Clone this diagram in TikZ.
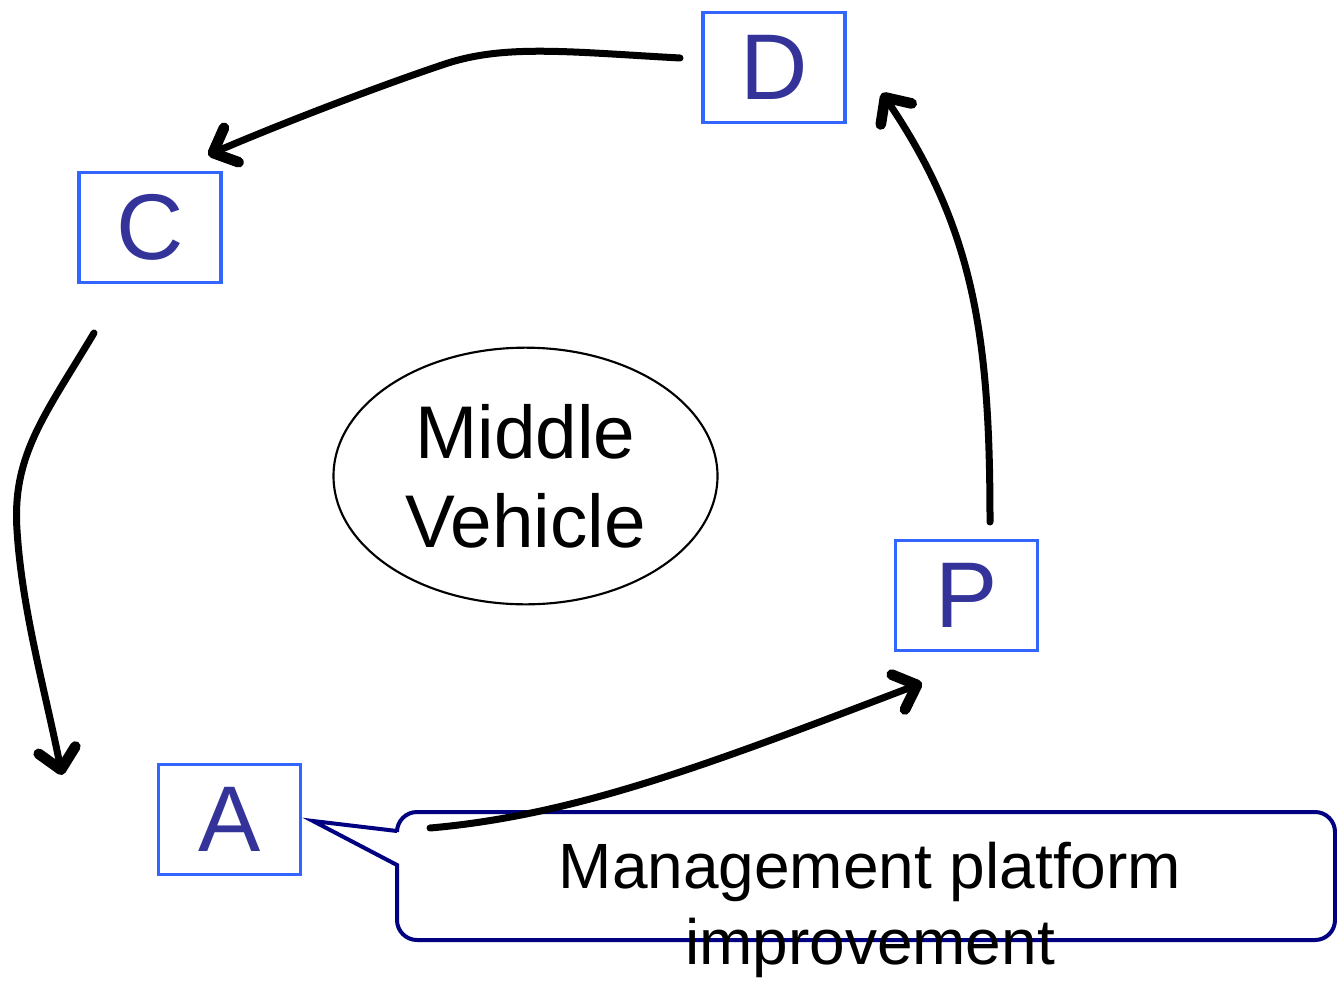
\documentclass[tikz,border=0pt]{standalone}
\usepackage{fontspec}
\setmainfont{Liberation Sans}
\usetikzlibrary{arrows.meta,shapes.geometric}
\definecolor{boxblue}{HTML}{3366FF}
\definecolor{letterblue}{HTML}{333399}
\definecolor{navy}{HTML}{000080}
\tikzset{
  letterbox/.style={draw=boxblue, line width=2.8pt, minimum width=106.5pt, minimum height=82.5pt,
    inner sep=0pt, text=letterblue, font=\fontsize{70}{70}\selectfont},
  cyclearrow/.style={line width=5.25pt, line cap=round,
    -{Straight Barb[length=15pt, width=28pt, round, line width=8pt]}},
}
\begin{document}
\begin{tikzpicture}[x=0.75pt, y=-0.75pt]
\useasboundingbox (0,0) rectangle (1337,981);
\node[letterbox] (D) at (774,67.5) {D};
\node[letterbox] (C) at (150,227.5) {C};
\node[letterbox] (A) at (229.5,819.5) {A};
\node[letterbox] (P) at (966.5,595.5) {P};
\node[ellipse, draw, line width=1.6pt, minimum width=288pt, minimum height=192.5pt, inner sep=0pt,
  align=center, font=\fontsize{56}{67}\selectfont] (M) at (525.5,476) {Middle\\Vehicle};
% callout
\draw[navy, line width=3pt, fill=white, line join=miter]
  (313,821) -- (397,831) [rounded corners=15pt] -- (397,812) -- (1335,812) -- (1335,940) -- (397,940)
  [sharp corners] -- (397,865) -- cycle;
\coordinate (dstart) at (680,58);
\coordinate (dmid) at (445,64);
\coordinate (dend) at (208,155);
\coordinate (cstart) at (94,333);
\coordinate (cmid) at (17,530);
\coordinate (cend) at (62,775);
\coordinate (astart) at (430,828);
\coordinate (aend) at (922,683);
\coordinate (pstart) at (990,522);
\coordinate (pend) at (882,93);
\draw[cyclearrow] (dstart) .. controls (570,52) and (505,44) .. (dmid) .. controls (385,84) and (290,120) .. (dend);
\draw[cyclearrow] (cstart) .. controls (45,415) and (12,455) .. (cmid) .. controls (22,610) and (45,690) .. (cend);
\draw[cyclearrow] (astart) .. controls (580,815) and (720,760) .. (aend);
\draw[cyclearrow] (pstart) .. controls (990,340) and (975,230) .. (pend);
\node[align=center, font=\fontsize{48}{57}\selectfont, inner sep=0pt] (T) at (870,910) {Management platform\\improvement};
\end{tikzpicture}
\end{document}
